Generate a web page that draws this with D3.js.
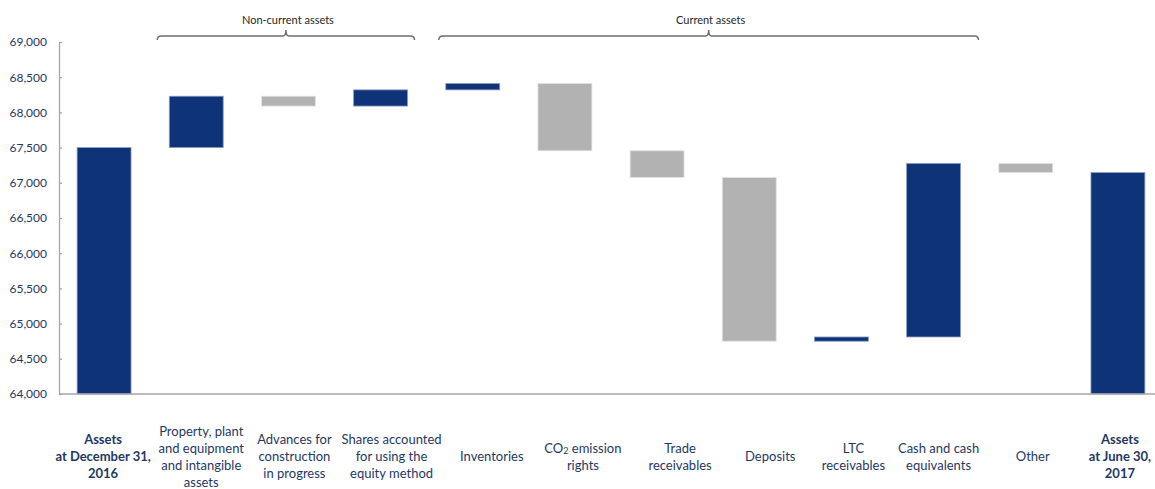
<!DOCTYPE html>
<html>
<head>
<meta charset="utf-8">
<script src="https://cdn.jsdelivr.net/npm/d3@7/dist/d3.min.js"></script>
<style>
  html, body { margin: 0; padding: 0; background: #fff; }
  svg { display: block; }
</style>
</head>
<body>
<svg id="chart" width="1155" height="489"></svg>
<script>
// ---- data ----
const categories = [
  "Assets|at December 31,|2016",
  "Property, plant|and equipment|and intangible|assets",
  "Advances for|construction|in progress",
  "Shares accounted|for using the|equity method",
  "Inventories",
  "CO2 emission|rights",
  "Trade|receivables",
  "Deposits",
  "LTC|receivables",
  "Cash and cash|equivalents",
  "Other",
  "Assets|at June 30,|2017"
];
// first and last are totals; others are changes
const startTotal = 67500;
const changes = [730, -140, 230, 90, -955, -380, -2325, 60, 2465, -130];
const yTicks = [64000, 64500, 65000, 65500, 66000, 66500, 67000, 67500, 68000, 68500, 69000];
const braceLabels = ["Non-current assets", "Current assets"];
const braceFirst = [1, 4];
const braceLast = [3, 9];

(function () {
// ---- build waterfall rows ----
const rows = [];
let run = startTotal;
rows.push({cat: categories[0], lo: 0, hi: startTotal, kind: "total"});
changes.forEach((c, i) => {
  const a = run, b = run + c;
  rows.push({cat: categories[i + 1], lo: Math.min(a, b), hi: Math.max(a, b), kind: c >= 0 ? "up" : "down"});
  run = b;
});
rows.push({cat: categories[11], lo: 0, hi: run, kind: "total"});

// ---- layout ----
const svg = d3.select("#chart");
const mLeft = 58, mRight = 1164, mTop = 42, mBottom = 394;
const x = d3.scaleBand().domain(categories).range([mLeft, mRight]).paddingInner(0.415).paddingOuter(0.2075);
const y = d3.scaleLinear().domain([64000, 69000]).range([mBottom, mTop]);

const blue = "#0E3379", grey = "#B2B2B2";
const labelColor = "#1F3864";
const font = "Lato, 'Open Sans', sans-serif";

// bars
svg.append("g").selectAll("rect").data(rows).join("rect")
  .attr("x", d => x(d.cat))
  .attr("width", x.bandwidth())
  .attr("y", d => y(d.hi))
  .attr("height", d => Math.max(1, y(Math.max(d.lo, 64000)) - y(d.hi)))
  .attr("fill", d => d.kind === "down" ? grey : blue)
  .attr("stroke", d => d.kind === "down" ? "#E3E3E3" : "#8C9CC4")
  .attr("stroke-width", 0.8);

// y axis
const yAxis = d3.axisLeft(y).tickValues(yTicks).tickFormat(d3.format(",")).tickSizeInner(-3).tickSizeOuter(0).tickPadding(12);
const gy = svg.append("g").attr("transform", `translate(${mLeft + 1},0)`).call(yAxis);
gy.select(".domain").attr("stroke", "#A6A6A6").attr("stroke-width", 1.3);
gy.selectAll(".tick line").attr("stroke", "#A6A6A6").attr("stroke-width", 1.3);
gy.selectAll(".tick text").attr("fill", labelColor).attr("font-family", font).attr("font-size", 12);

// x axis line
const xAxis = d3.axisBottom(x).tickSize(0).tickFormat("");
const gx = svg.append("g").attr("transform", `translate(0,${mBottom})`).call(xAxis);
gx.select(".domain").attr("stroke", "#A6A6A6").attr("stroke-width", 1.3)
  .attr("d", `M${mLeft + 1},0H${mRight}`);

// x labels (text boxes are slightly offset from bars, as in the original)
const labelShift = [-1, 5, 6, 11, 19, 18, 23, 21, 12, 5, 7, 2];
const lineH = 17, midY = 456;
const lg = svg.append("g");
rows.forEach((r, i) => {
  const lines = r.cat.split("|");
  const cx = x(r.cat) + x.bandwidth() / 2 + labelShift[i];
  const t = lg.append("text")
    .attr("text-anchor", "middle")
    .attr("fill", labelColor)
    .attr("font-family", font)
    .attr("font-size", 13)
    .attr("font-weight", r.kind === "total" ? "bold" : "normal");
  lines.forEach((ln, j) => {
    const ts = t.append("tspan").attr("x", cx)
      .attr("y", midY - (lines.length - 1) / 2 * lineH + j * lineH)
      .attr("dominant-baseline", "central");
    if (ln.startsWith("CO2")) {
      ts.append("tspan").text("CO");
      ts.append("tspan").text("2").attr("font-size", 9).attr("dy", 3);
      ts.append("tspan").text(ln.slice(3)).attr("dy", -3);
    } else {
      ts.text(ln);
    }
  });
});

// braces
const offs = [[-12, 7], [-7, 18]];
const braceY = 36, tipY = 30, hook = 4;
braceLabels.forEach((lab, i) => {
  const x0 = x(categories[braceFirst[i]]) + offs[i][0];
  const x1 = x(categories[braceLast[i]]) + x.bandwidth() + offs[i][1];
  const xm = (x0 + x1) / 2;
  const p = d3.path();
  p.moveTo(x0, braceY + hook);
  p.quadraticCurveTo(x0, braceY, x0 + 4, braceY);
  p.lineTo(xm - 3, braceY);
  p.quadraticCurveTo(xm, braceY, xm, tipY);
  p.quadraticCurveTo(xm, braceY, xm + 3, braceY);
  p.lineTo(x1 - 4, braceY);
  p.quadraticCurveTo(x1, braceY, x1, braceY + hook);
  svg.append("path").attr("d", p.toString()).attr("fill", "none")
    .attr("stroke", "#6E6E6E").attr("stroke-width", 1.5);
  svg.append("text").attr("x", xm + 2).attr("y", 19)
    .attr("text-anchor", "middle").attr("dominant-baseline", "central")
    .attr("font-family", font).attr("font-size", 11).attr("fill", "#262626")
    .text(lab);
});
})();
</script>
</body>
</html>
